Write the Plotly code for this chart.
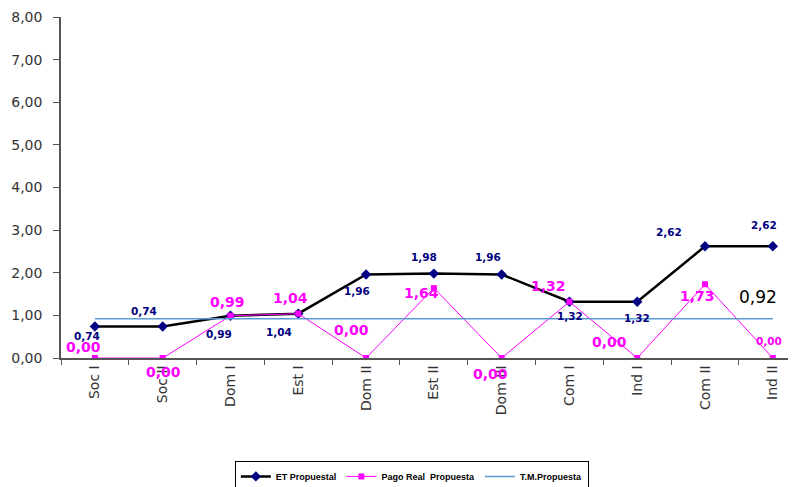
import plotly.graph_objects as go

categories = ["Soc I", "Soc II", "Dom I", "Est I", "Dom II", "Est II",
              "Dom III", "Com I", "Ind I", "Com II", "Ind II"]
et_propuesta = [0.74, 0.74, 0.99, 1.04, 1.96, 1.98, 1.96, 1.32, 1.32, 2.62, 2.62]
pago_real = [0.00, 0.00, 0.99, 1.04, 0.00, 1.64, 0.00, 1.32, 0.00, 1.73, 0.00]
tm_value = 0.92
tm_propuesta = [tm_value] * len(categories)

y_ticks = [0, 1, 2, 3, 4, 5, 6, 7, 8]

# label offsets in pixels (dx, dy) — styling only
et_offsets = [(-8, -10), (-19, 15), (-11, -18), (-19, -18), (-9, -17), (-10, 17),
              (-14, 17), (1, -14), (0, -16), (-36, 14), (-9, 21)]
pago_offsets = [(-11, 11), (1, -14), (-3, 14), (-8, 16), (-15, 28), (-12, -5),
                (-11, -16), (-21, 16), (-28, 16), (-8, -12), (-4, 17)]
pago_sizes = [14, 14, 14, 14, 14, 14, 14, 14, 14, 14, 10.5]

LABEL_FONT = "DejaVu Sans"

fig = go.Figure()

fig.add_trace(go.Scatter(
    x=categories, y=et_propuesta, mode="lines+markers", name="ET Propuestal",
    line=dict(color="black", width=2.5),
    marker=dict(symbol="diamond", size=8, color="#000080"),
))
fig.add_trace(go.Scatter(
    x=categories, y=pago_real, mode="lines+markers", name="Pago Real  Propuesta",
    line=dict(color="#FF00FF", width=1),
    marker=dict(symbol="square", size=6, color="#FF00FF"),
))
fig.add_trace(go.Scatter(
    x=categories, y=tm_propuesta, mode="lines", name="T.M.Propuesta",
    line=dict(color="#5B9BD5", width=1.5),
))

def fmt(v):
    return f"{v:.2f}".replace(".", ",")

annotations = []
for c, v, (dx, dy) in zip(categories, et_propuesta, et_offsets):
    annotations.append(dict(x=c, y=v, xref="x", yref="y", text=f"<b>{fmt(v)}</b>",
                            showarrow=False, xshift=dx, yshift=dy,
                            font=dict(family=LABEL_FONT, size=10.5, color="#000080")))
for c, v, (dx, dy), s in zip(categories, pago_real, pago_offsets, pago_sizes):
    annotations.append(dict(x=c, y=v, xref="x", yref="y", text=f"<b>{fmt(v)}</b>",
                            showarrow=False, xshift=dx, yshift=dy,
                            font=dict(family=LABEL_FONT, size=s, color="#FF00FF")))
annotations.append(dict(x=categories[-1], y=tm_value, xref="x", yref="y", text=fmt(tm_value),
                        showarrow=False, xshift=-15, yshift=22,
                        font=dict(family=LABEL_FONT, size=17, color="black")))

fig.update_layout(
    width=796, height=487,
    margin=dict(l=53, r=0, t=9, b=137),
    paper_bgcolor="white", plot_bgcolor="white",
    separators=",.",
    font=dict(family=LABEL_FONT, size=14, color="#333333"),
    showlegend=True,
    legend=dict(orientation="h", x=0.234, y=0.07, xanchor="left", yanchor="top",
                yref="container",
                bordercolor="black", borderwidth=1,
                font=dict(family="Liberation Sans, Arial", size=9, color="black", weight="bold"),
                itemwidth=30, tracegroupgap=0),
    annotations=annotations,
    xaxis=dict(type="category", range=[-0.5, 10.46], tickson="boundaries",
               ticks="outside", ticklen=5, tickcolor="#555555",
               showline=True, linecolor="#555555", linewidth=1.5,
               showgrid=False, tickangle=-90, automargin=False,
               tickfont=dict(family=LABEL_FONT, size=14, color="#333333")),
    yaxis=dict(range=[0, 8], tickvals=y_ticks, tickformat=".2f",
               ticks="outside", ticklen=6, tickcolor="#555555",
               ticklabelstandoff=8, automargin=False,
               showline=True, linecolor="#555555", linewidth=1.5,
               showgrid=False, zeroline=False,
               tickfont=dict(family=LABEL_FONT, size=14, color="#333333")),
)

fig.write_html("out.html")
